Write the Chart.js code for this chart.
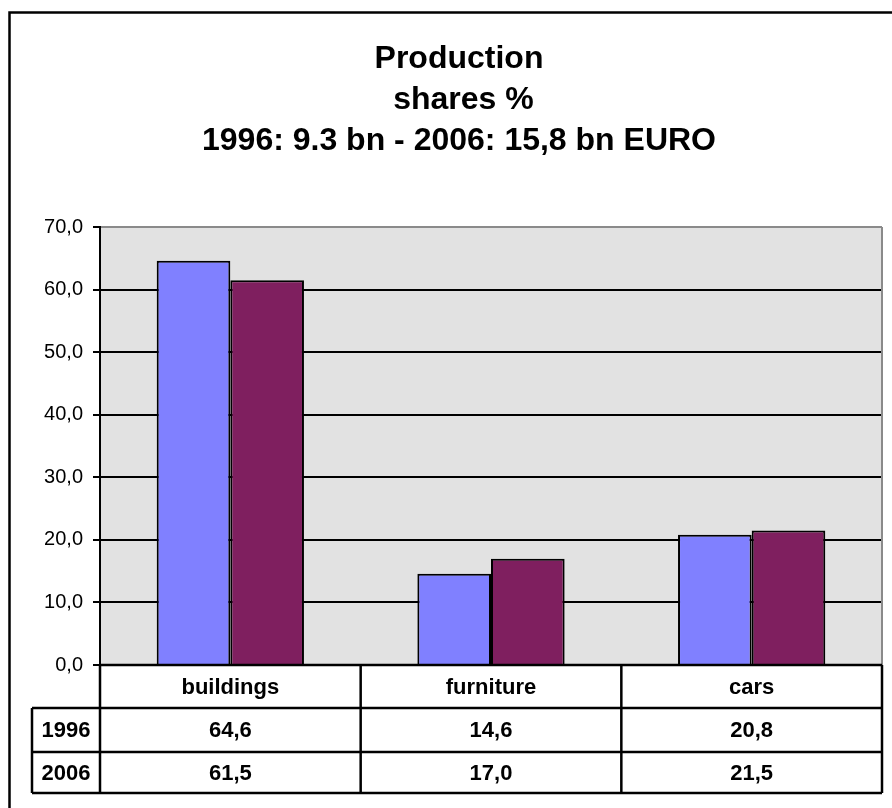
<!DOCTYPE html>
<html>
<head>
<meta charset="utf-8">
<script src="https://cdn.jsdelivr.net/npm/chart.js@4.4.1/dist/chart.umd.min.js"></script>
<style>
  html, body { margin: 0; padding: 0; background: #fff; }
  canvas { display: block; }
</style>
</head>
<body>
<canvas id="c" width="892" height="808"></canvas>
<script>
const titleLines = ['Production', ' shares %', '1996: 9.3 bn - 2006: 15,8 bn EURO'];
const categories = ['buildings', 'furniture', 'cars'];
const seriesNames = ['1996', '2006'];
const values1996 = [64.6, 14.6, 20.8];
const values2006 = [61.5, 17.0, 21.5];
const yTicks = [0, 10, 20, 30, 40, 50, 60, 70];

const FONT = "'Liberation Sans', Arial, Helvetica, sans-serif";
const fmt = v => v.toFixed(1).replace('.', ',');

const framePlugin = {
  id: 'frame',
  beforeDraw(chart) {
    const { ctx, chartArea: a } = chart;
    ctx.save();
    ctx.fillStyle = '#fff';
    ctx.fillRect(0, 0, chart.width, chart.height);
    // outer chart frame (extends beyond the viewport at right and bottom)
    ctx.strokeStyle = '#000';
    ctx.lineWidth = 2.5;
    ctx.beginPath();
    ctx.moveTo(9.5, chart.height + 5);
    ctx.lineTo(9.5, 12.5);
    ctx.lineTo(chart.width + 5, 12.5);
    ctx.stroke();
    // plot area background
    ctx.fillStyle = '#E2E2E2';
    ctx.fillRect(a.left, a.top, a.right - a.left, a.bottom - a.top);
    // title
    ctx.fillStyle = '#000';
    ctx.font = 'bold 32px ' + FONT;
    ctx.textAlign = 'center';
    ctx.textBaseline = 'alphabetic';
    const baselines = [68, 109, 150];
    titleLines.forEach((t, i) => ctx.fillText(t, 459, baselines[i]));
    ctx.restore();
  },
  afterDatasetsDraw(chart) {
    const { ctx, chartArea: a } = chart;
    ctx.save();
    ctx.strokeStyle = '#8a8a8a';
    ctx.lineWidth = 2;
    ctx.beginPath();
    ctx.moveTo(a.right, a.top);
    ctx.lineTo(a.right, a.bottom);
    ctx.stroke();
    ctx.restore();
  },
  afterDraw(chart) {
    const { ctx, chartArea: a, scales: { x } } = chart;
    const rows = [a.bottom, 708, 752, 793];
    const labelLeft = 32;
    const half = (x.getPixelForValue(1) - x.getPixelForValue(0)) / 2;
    const bounds = [];
    categories.forEach((c, i) => bounds.push(x.getPixelForValue(i) - half));
    bounds.push(x.getPixelForValue(categories.length - 1) + half);
    ctx.save();
    ctx.strokeStyle = '#000';
    ctx.lineWidth = 2.5;
    ctx.beginPath();
    ctx.moveTo(bounds[0], rows[0]); ctx.lineTo(bounds[bounds.length - 1], rows[0]);
    for (let r = 1; r < rows.length; r++) {
      ctx.moveTo(labelLeft, rows[r]);
      ctx.lineTo(bounds[bounds.length - 1], rows[r]);
    }
    bounds.forEach(b => { ctx.moveTo(b, rows[0]); ctx.lineTo(b, rows[3]); });
    ctx.moveTo(labelLeft, rows[1]); ctx.lineTo(labelLeft, rows[3]);
    ctx.stroke();
    ctx.fillStyle = '#000';
    ctx.font = 'bold 22px ' + FONT;
    ctx.textAlign = 'center';
    ctx.textBaseline = 'middle';
    const mid = (r) => (rows[r] + rows[r + 1]) / 2 + 1;
    categories.forEach((c, i) => ctx.fillText(c, x.getPixelForValue(i), mid(0)));
    [values1996, values2006].forEach((vals, s) => {
      ctx.fillText(seriesNames[s], (labelLeft + bounds[0]) / 2, mid(s + 1));
      vals.forEach((v, i) => ctx.fillText(fmt(v), x.getPixelForValue(i), mid(s + 1)));
    });
    ctx.restore();
  }
};

new Chart(document.getElementById('c'), {
  type: 'bar',
  data: {
    labels: categories,
    datasets: [
      { label: seriesNames[0], data: values1996, backgroundColor: '#8080FF', borderColor: '#000', borderWidth: 2 },
      { label: seriesNames[1], data: values2006, backgroundColor: '#7F1F5F', borderColor: '#000', borderWidth: 2 }
    ]
  },
  options: {
    responsive: false,
    animation: false,
    devicePixelRatio: 1,
    layout: { padding: { left: 0, top: 227, right: 10, bottom: 143 } },
    datasets: { bar: { categoryPercentage: 0.565, barPercentage: 1.0, borderSkipped: 'start' } },
    plugins: { legend: { display: false }, title: { display: false }, tooltip: { enabled: false } },
    scales: {
      x: {
        ticks: { display: false },
        grid: { display: false, drawTicks: false },
        border: { display: true, color: '#000', width: 2 },
        afterFit(s) { s.height = 0; }
      },
      y: {
        min: 0, max: 70,
        afterBuildTicks(s) { s.ticks = yTicks.map(v => ({ value: v })); },
        afterFit(s) { s.width = 100; },
        ticks: {
          color: '#000',
          padding: 10,
          font: { family: FONT, size: 20 },
          callback: v => fmt(v)
        },
        grid: {
          color: c => (c.tick && c.tick.value === 70) ? '#8a8a8a' : '#000',
          tickColor: '#000',
          lineWidth: 2,
          tickLength: 7
        },
        border: { display: true, color: '#000', width: 2 }
      }
    }
  },
  plugins: [framePlugin]
});
</script>
</body>
</html>
